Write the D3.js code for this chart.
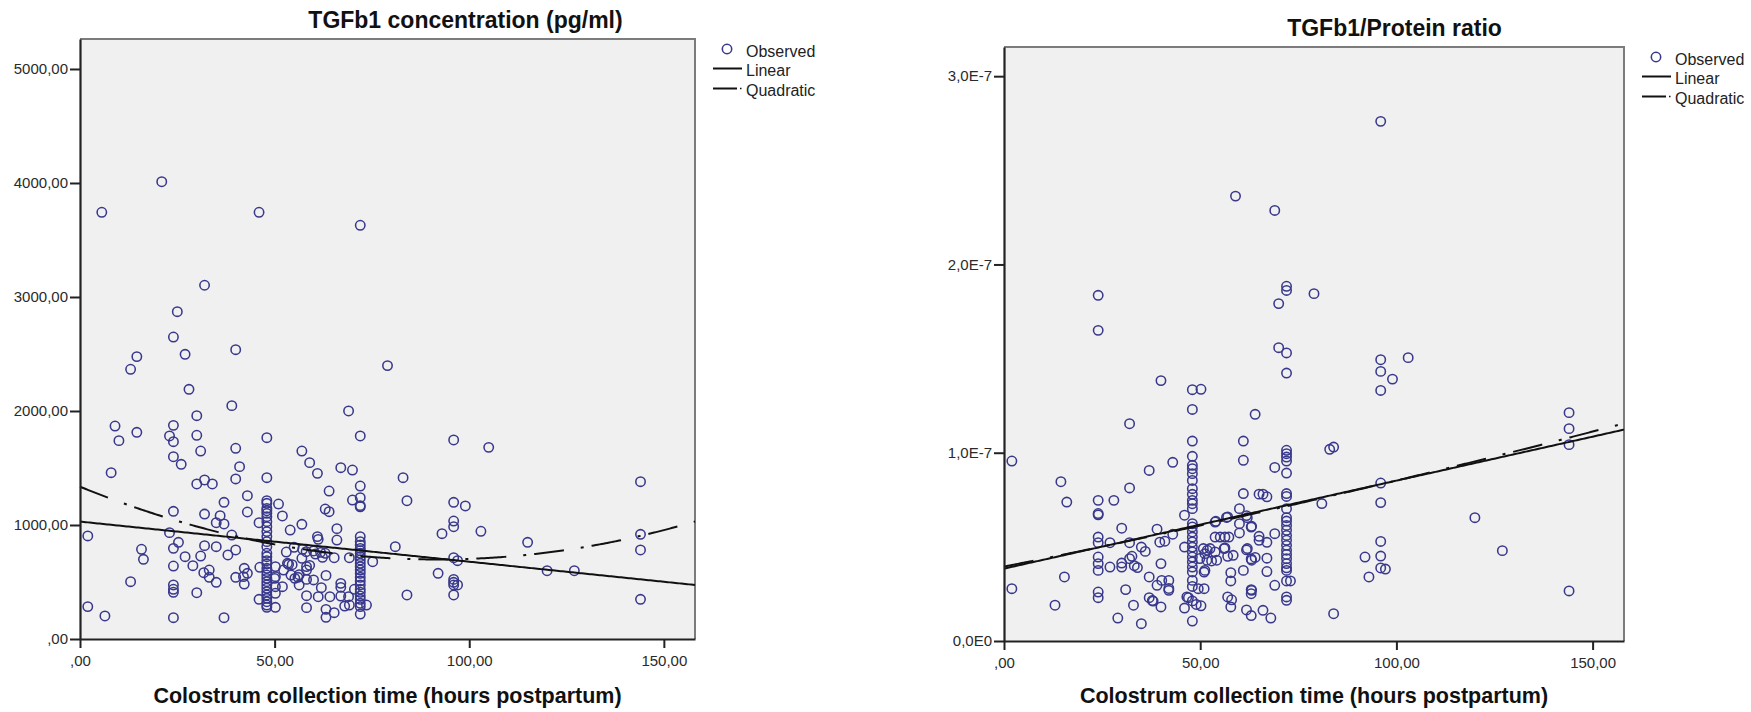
<!DOCTYPE html>
<html>
<head>
<meta charset="utf-8">
<script src="https://cdn.jsdelivr.net/npm/d3@7"></script>
<style>
  body { margin: 0; background: #ffffff; }
  svg { display: block; }
  text { font-family: "Liberation Sans", Arial, sans-serif; }
</style>
</head>
<body>
<svg id="chart" width="1751" height="712"></svg>
<script>
// ---- axis ticks and labels ----
const xTickValues = [0, 50, 100, 150];
const xTickLabels = [",00", "50,00", "100,00", "150,00"];
const concTickValues = [0, 1000, 2000, 3000, 4000, 5000];
const concTickLabels = [",00", "1000,00", "2000,00", "3000,00", "4000,00", "5000,00"];
const ratioTickValues = [0, 1, 2, 3];            // in units of 1E-7
const ratioTickLabels = ["0,0E0", "1,0E-7", "2,0E-7", "3,0E-7"];
const legendLabels = ["Observed", "Linear", "Quadratic"];
const xAxisTitle = "Colostrum collection time (hours postpartum)";

// ---- TGFb1 concentration (pg/ml) vs hours postpartum ----
const concPoints = [
  [5.6,3743],[21,4011],[46,3743],[72,3629],[32,3103],[25,2871],[24,2649],[40,2538],[27,2497],[14.6,2477],[79,2398],
  [13,2366],[28,2190],[39,2047],[69,2000],[30,1959],[9,1868],[24,1874],[14.6,1813],[23,1781],[30,1787],[72,1781],
  [48,1766],[10,1740],[24,1731],[40,1673],[31,1649],[57,1649],[24,1599],[59,1547],[26,1532],[41,1512],[67,1503],
  [70,1482],[8,1459],[61,1453],[48,1415],[40,1404],[83,1415],[32,1395],[30,1360],[34,1360],[72,1342],[64,1298],
  [43,1257],[72,1240],[70,1219],[84,1213],[37,1199],[48,1213],[51,1184],[72,1170],[72,1160],[48,1146],[63,1140],
  [64,1117],[24,1120],[43,1114],[32,1096],[52,1079],[36,1082],[48,1102],[35,1020],[37,1009],[46,1020],[57,1006],
  [23,933],[2,904],[39,912],[54,956],[66,968],[61,898],[66,868],[81,810],[25.3,848],[24,795],[15.8,787],[16.3,699],
  [32,819],[35,810],[40,781],[27,722],[31,728],[38,737],[29,643],[24,640],[31.8,582],[33.2,605],[33.2,541],[35,497],
  [42.2,620],[43,576],[40,541],[42,547],[42.2,482],[13,503],[30,406],[24,474],[24,436],[24,410],[2,284],[6.4,202],
  [24,187],[37,187],[46,348],[46.2,629],[50.2,635],[50.2,547],[50.2,459],[50.2,401],[50.2,278],[52,459],[52.3,605],
  [53.3,664],[53,763],[54.5,652],[55,804],[56.3,564],[56,541],[57,708],[58.2,605],[58.2,635],[59,646],[58.2,523],
  [58.2,380],[58.2,275],[57.2,787],[60,772],[61.2,874],[60,518],[61.2,371],[63.2,558],[63.2,260],[63.2,190],[62,450],
  [62.3,717],[63,752],[65.3,713],[64.2,371],[65.3,231],[67,488],[67,453],[67,377],[68,289],[69.2,298],[69.2,713],
  [70.5,436],[69,371],[73.6,298],[75.2,678],[84,386],[58.1,766],[60.5,745],[61.8,760],[53.6,655],[54.2,561],
  [55.2,532],[56.3,474],[50,532],
  // 48 h column
  [48,1190],[48,1125],[48,1073],[48,1029],[48,985],[48,942],[48,898],[48,854],[48,810],[48,752],[48,722],[48,687],
  [48,658],[48,620],[48,591],[48,561],[48,532],[48,503],[48,474],[48,445],[48,415],[48,386],[48,357],[48,327],
  [48,298],[48,278],
  // 72 h column
  [72,898],[72,854],[72,825],[72,795],[72,775],[72,752],[72,722],[72,693],[72,664],[72,635],[72,605],[72,576],
  [72,541],[72,509],[72,474],[72,436],[72,410],[72,377],[72,348],[72,313],[72,284],[72,219],
  // later samples
  [96,1746],[105,1681],[144,1380],[96,1199],[99,1167],[96,1035],[96,985],[93,924],[103,945],[115,848],[144,918],
  [144,781],[96,713],[97,687],[120,599],[127,599],[92,576],[96,523],[96,497],[96,474],[97,474],[96,386],[144,348]
];
const concLinear = [1030, -3.52];                 // intercept, slope
const concQuadratic = [1336, -13.91, 0.0758];     // a + b*t + c*t^2

// ---- TGFb1/Protein ratio (values in units of 1E-7) vs hours postpartum ----
const ratioPoints = [
  [59,2.363],[69,2.287],[72,1.884],[72,1.862],[79,1.845],[24,1.836],[70,1.792],[24,1.650],[70,1.558],[72,1.530],
  [96,2.760],[96,1.494],[103,1.505],[96,1.432],[99,1.391],[96,1.331],[144,1.213],[144,1.128],[144,1.043],
  [83,1.018],[84,1.030],[96,0.839],[81,0.730],[96,0.735],[120,0.655],[96,0.529],[92,0.446],[96,0.451],[127,0.480],
  [96,0.388],[97.2,0.382],[93,0.340],[144,0.266],[84,0.145],
  [72,1.423],[40,1.383],[48,1.335],[50.2,1.337],[48,1.230],[64,1.204],[32,1.154],[48,1.062],[61,1.062],[61,0.960],
  [2,0.956],[43,0.949],[37,0.906],[69,0.922],[14.5,0.846],[32,0.813],[16,0.738],[24,0.747],[28,0.747],[24,0.677],
  [24,0.670],[61,0.783],[65,0.780],[66,0.780],[67,0.766],[46,0.668],[60,0.703],[56.7,0.656],[53.8,0.632],[61.8,0.666],
  [63,0.605],[60,0.574],[69,0.570],[65,0.556],[65,0.535],[67,0.524],[30,0.599],[39,0.594],[43,0.567],[53.8,0.552],
  [55.1,0.552],[56.3,0.552],[57.3,0.552],[24,0.552],[24,0.522],[27,0.522],[32,0.522],[39.7,0.525],[41,0.530],
  [35,0.499],[36,0.476],[24,0.446],[24,0.411],[24,0.375],[27,0.393],[30,0.414],[30,0.393],[32,0.437],[32.6,0.450],
  [33.2,0.400],[34,0.390],[40,0.411],[37,0.340],[39,0.296],[40.2,0.322],[42,0.322],[42,0.279],[15.4,0.340],[2,0.278],
  [31,0.273],[13,0.190],[24,0.260],[24,0.230],[33,0.190],[37,0.230],[38,0.212],[40,0.181],[29,0.122],[35,0.092],
  [46,0.175],[48,0.106],[46.6,0.234],[48,0.213],[49,0.194],[50.2,0.187],[51,0.278],[51,0.366],[57.8,0.363],
  [57.8,0.319],[57,0.234],[58,0.219],[57.8,0.181],[61,0.375],[63,0.273],[63,0.251],[61.8,0.165],[63,0.135],
  [66,0.163],[68,0.122],[67,0.440],[67,0.369],[69,0.296],[73,0.319],[61.8,0.484],[63,0.436],[64,0.444],[57,0.450],
  [58.4,0.455],[56.3,0.494],[50.8,0.491],[51.8,0.482],[52.5,0.491],[53.8,0.473],[51.2,0.464],[49.9,0.438],
  [51.7,0.429],[52.9,0.425],[54.2,0.429],[56.1,0.491],[57,0.659],[54,0.636],[62,0.491],[63.1,0.429],[63.1,0.269],
  [49.5,0.278],[51.2,0.375],[46,0.499],[42,0.269],[37.8,0.215],[47,0.230],[60,0.623],[62,0.655],[63.1,0.609],
  // 48 h column
  [48,0.981],[48,0.933],[48,0.915],[48,0.889],[48,0.853],[48,0.809],[48,0.779],[48,0.747],[48,0.729],[48,0.703],
  [48,0.623],[48,0.606],[48,0.579],[48,0.552],[48,0.526],[48,0.499],[48,0.473],[48,0.446],[48,0.420],[48,0.393],
  [48,0.367],[48,0.322],[48,0.290],
  // 72 h column
  [72,1.013],[72,0.995],[72,0.977],[72,0.956],[72,0.892],[72,0.783],[72,0.768],[72,0.703],[72,0.655],[72,0.637],
  [72,0.614],[72,0.588],[72,0.561],[72,0.535],[72,0.508],[72,0.482],[72,0.460],[72,0.437],[72,0.411],[72,0.389],
  [72,0.375],[72,0.319],[72,0.234],[72,0.216]
];
const ratioLinear = [0.3845, 0.004672];
const ratioQuadratic = [0.395, 0.004158, 0.00000416];

// ---- panel layout ----
const panels = [
  { title: "TGFb1 concentration (pg/ml)", points: concPoints, linear: concLinear, quadratic: concQuadratic,
    yTicks: concTickValues, yLabels: concTickLabels,
    left: 80, right: 695, top: 39, bottom: 639, xMax: 158, yMax: 5263, titleY: 28, legendY: 49 },
  { title: "TGFb1/Protein ratio", points: ratioPoints, linear: ratioLinear, quadratic: ratioQuadratic,
    yTicks: ratioTickValues, yLabels: ratioTickLabels,
    left: 1004, right: 1624, top: 47, bottom: 641, xMax: 158, yMax: 3.155, titleY: 36, legendY: 57 }
];

const svg = d3.select("#chart");
const markerColor = "#38388c";
const quadDash = "30,17,3,8";

panels.forEach(p => {
  const g = svg.append("g");
  const x = d3.scaleLinear().domain([0, p.xMax]).range([p.left, p.right]);
  const y = d3.scaleLinear().domain([0, p.yMax]).range([p.bottom, p.top]);

  // plot area
  g.append("rect").attr("x", p.left).attr("y", p.top)
    .attr("width", p.right - p.left).attr("height", p.bottom - p.top)
    .attr("fill", "#f0f0f0");
  g.append("path")
    .attr("d", `M${p.left},${p.top}H${p.right}V${p.bottom}`)
    .attr("fill", "none").attr("stroke", "#7c7c7c").attr("stroke-width", 2);

  // fitted curves
  const tGrid = d3.range(0, p.xMax + 0.001, 0.5);
  const lin = t => p.linear[0] + p.linear[1] * t;
  const quad = t => p.quadratic[0] + p.quadratic[1] * t + p.quadratic[2] * t * t;

  // observed points
  g.append("g").selectAll("circle").data(p.points).join("circle")
    .attr("cx", d => x(d[0])).attr("cy", d => y(d[1])).attr("r", 4.7)
    .attr("fill", "none").attr("stroke", markerColor).attr("stroke-width", 1.55);

  g.append("path").datum(tGrid)
    .attr("d", d3.line().x(t => x(t)).y(t => y(lin(t))))
    .attr("fill", "none").attr("stroke", "#111").attr("stroke-width", 2);
  g.append("path").datum(tGrid)
    .attr("d", d3.line().x(t => x(t)).y(t => y(quad(t))))
    .attr("fill", "none").attr("stroke", "#111").attr("stroke-width", 2)
    .attr("stroke-dasharray", quadDash);

  // axes
  const yAxis = d3.axisLeft(y).tickValues(p.yTicks)
    .tickFormat((d, i) => p.yLabels[i]).tickSizeInner(10).tickSizeOuter(0).tickPadding(2);
  const ya = g.append("g").attr("transform", `translate(${p.left},0)`).call(yAxis);
  const xAxis = d3.axisBottom(x).tickValues(xTickValues)
    .tickFormat((d, i) => xTickLabels[i]).tickSizeInner(9).tickSizeOuter(0).tickPadding(7);
  const xa = g.append("g").attr("transform", `translate(0,${p.bottom})`).call(xAxis);
  [ya, xa].forEach(a => {
    a.select(".domain").attr("stroke", "#222").attr("stroke-width", 2.2);
    a.selectAll(".tick line").attr("stroke", "#222").attr("stroke-width", 2);
    a.selectAll(".tick text").attr("fill", "#2a2a2a")
      .style("font-family", '"Liberation Sans", Arial, sans-serif').style("font-size", "15px");
  });

  // title and axis title
  g.append("text").attr("x", p.right - 229.5).attr("y", p.titleY)
    .attr("text-anchor", "middle").attr("font-weight", "bold").attr("font-size", 23)
    .attr("fill", "#111").text(p.title);
  g.append("text").attr("x", (p.left + p.right) / 2).attr("y", 702.5)
    .attr("text-anchor", "middle").attr("font-weight", "bold").attr("font-size", 21.5)
    .attr("fill", "#111").text(xAxisTitle);

  // legend
  const lx = p.right + 18, ly = p.legendY;
  const leg = g.append("g");
  leg.append("circle").attr("cx", lx + 14).attr("cy", ly).attr("r", 4.7)
    .attr("fill", "none").attr("stroke", markerColor).attr("stroke-width", 1.55);
  leg.append("line").attr("x1", lx).attr("x2", lx + 29).attr("y1", ly + 19.5).attr("y2", ly + 19.5)
    .attr("stroke", "#111").attr("stroke-width", 2);
  leg.append("line").attr("x1", lx).attr("x2", lx + 24).attr("y1", ly + 39.5).attr("y2", ly + 39.5)
    .attr("stroke", "#111").attr("stroke-width", 2);
  leg.append("line").attr("x1", lx + 27).attr("x2", lx + 28.5).attr("y1", ly + 39.5).attr("y2", ly + 39.5)
    .attr("stroke", "#111").attr("stroke-width", 1.5);
  legendLabels.forEach((lab, i) => {
    leg.append("text").attr("x", lx + 33).attr("y", ly + 7.5 + i * 19.7)
      .attr("font-size", 16).attr("fill", "#222").text(lab);
  });
});
</script>
</body>
</html>
